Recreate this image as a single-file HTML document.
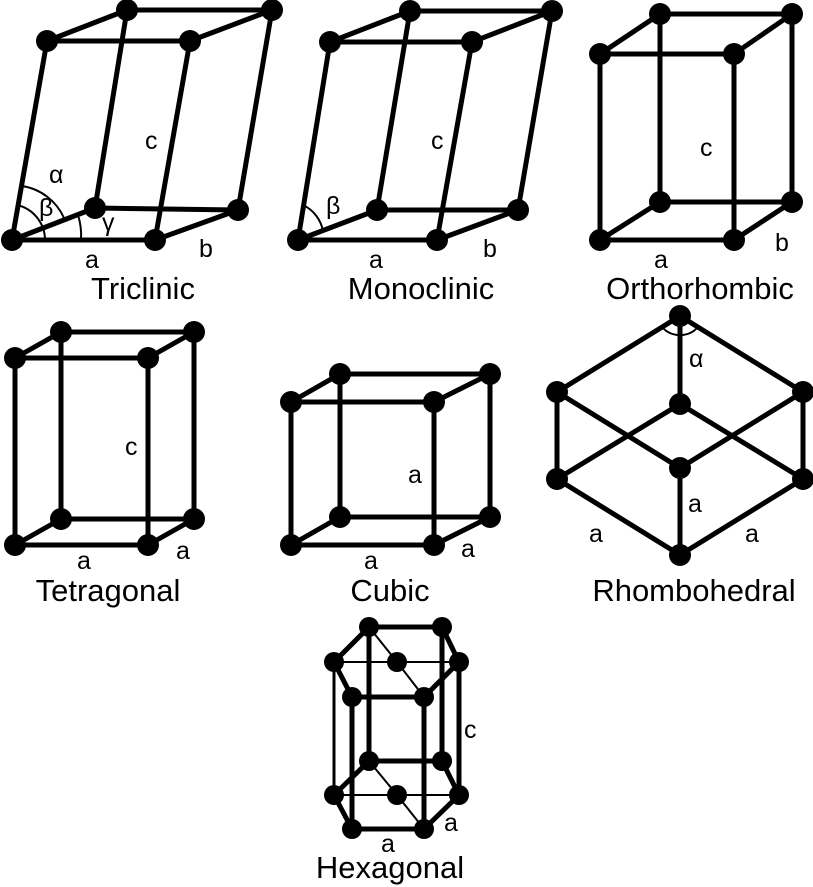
<!DOCTYPE html>
<html><head><meta charset="utf-8"><style>
html,body{margin:0;padding:0;background:#fff}
svg{display:block}
text{font-family:"Liberation Sans",Arial,sans-serif;fill:#000}
.lbl{font-size:31px}
.ax{font-size:25px}
</style></head><body>
<svg id="s" width="813" height="887" viewBox="0 0 813 887">
<g id="lines" stroke="#000" stroke-width="5" stroke-linecap="round" fill="none"></g>
<g id="arcs" stroke="#000" stroke-width="2" fill="none">
<path d="M22,186 A55,55 0 0 1 64,218"/>
<path d="M17,205 A36,36 0 0 1 45,240"/>
<path d="M78,215 A68,68 0 0 1 81,240"/>
<path d="M303,205 A36,36 0 0 1 323,231"/>
<path d="M662,327 A24,24 0 0 0 698,327"/>
</g>
<g id="dots" fill="#000"></g>
<g>
<text class="ax" x="49" y="183">α</text>
<text class="ax" x="39" y="216">β</text>
<text class="ax" x="102" y="231">γ</text>
<text class="ax" x="145" y="149">c</text>
<text class="ax" x="85" y="268">a</text>
<text class="ax" x="199" y="257">b</text>
<text class="lbl" x="143" y="299" text-anchor="middle">Triclinic</text>
<text class="ax" x="326" y="214">β</text>
<text class="ax" x="431" y="149">c</text>
<text class="ax" x="369" y="268">a</text>
<text class="ax" x="483" y="257">b</text>
<text class="lbl" x="421" y="299" text-anchor="middle">Monoclinic</text>
<text class="ax" x="700" y="156">c</text>
<text class="ax" x="654" y="268">a</text>
<text class="ax" x="775" y="251">b</text>
<text class="lbl" x="700" y="299" text-anchor="middle">Orthorhombic</text>
<text class="ax" x="125" y="455">c</text>
<text class="ax" x="77" y="569">a</text>
<text class="ax" x="176" y="559">a</text>
<text class="lbl" x="108" y="601" text-anchor="middle">Tetragonal</text>
<text class="ax" x="408" y="483">a</text>
<text class="ax" x="364" y="569">a</text>
<text class="ax" x="461" y="557">a</text>
<text class="lbl" x="390" y="601" text-anchor="middle">Cubic</text>
<text class="ax" x="689" y="367">α</text>
<text class="ax" x="589" y="542">a</text>
<text class="ax" x="688" y="512">a</text>
<text class="ax" x="745" y="542">a</text>
<text class="lbl" x="694" y="601" text-anchor="middle">Rhombohedral</text>
<text class="ax" x="464" y="738">c</text>
<text class="ax" x="381" y="852">a</text>
<text class="ax" x="444" y="831">a</text>
<text class="lbl" x="390" y="878" text-anchor="middle">Hexagonal</text>
</g>
</svg>
<script>
const NS="http://www.w3.org/2000/svg";
function box(p){
  const e=[[0,1],[0,2],[1,3],[2,3],[4,5],[4,6],[5,7],[6,7],[0,4],[1,5],[2,6],[3,7]];
  return {pts:p,edges:e.map(x=>[x[0],x[1],5])};
}
const shapes=[
 box([[12,240],[155,240],[95,208],[238,210],[47,41],[190,41],[127,10],[272,10]]),
 box([[298,240],[437,240],[377,210],[518,210],[330,42],[472,42],[410,11],[552,11]]),
 box([[600,240],[734,240],[660,202],[792,202],[600,54],[734,54],[660,14],[792,14]]),
 box([[15,545],[148,545],[61,519],[194,519],[15,358],[148,358],[61,332],[194,332]]),
 box([[291,545],[434,545],[340,517],[490,517],[291,402],[434,402],[340,374],[490,374]]),
 {pts:[[680,316],[557,392],[680,404],[803,392],[557,479],[680,468],[803,479],[680,555]],
  edges:[[0,1,5],[0,3,5],[0,2,5],[1,4,5],[3,6,5],[1,5,5],[3,5,5],[2,4,5],[2,6,5],[4,7,5],[6,7,5],[5,7,5]]},
 {pts:[[369,627],[442,627],[334,662],[397,662],[459,662],[352,697],[424,697],
       [369,761],[442,761],[334,795],[397,795],[459,795],[352,829],[424,829]],
  edges:[[0,1,5],[0,2,5],[1,4,5],[2,5,5],[5,6,5],[6,4,5],[2,4,2],[0,3,2],[3,6,2],
         [7,8,5],[7,9,5],[8,11,5],[9,12,5],[12,13,5],[13,11,5],[9,11,2],[7,10,2],[10,13,2],
         [0,7,5],[1,8,5],[2,9,3],[4,11,5],[5,12,5],[6,13,5]]}
];
const lg=document.getElementById('lines'),dg=document.getElementById('dots');
shapes.forEach((s,si)=>{
  s.edges.forEach(([a,b,w])=>{
    const l=document.createElementNS(NS,'line');
    l.setAttribute('x1',s.pts[a][0]);l.setAttribute('y1',s.pts[a][1]);
    l.setAttribute('x2',s.pts[b][0]);l.setAttribute('y2',s.pts[b][1]);
    l.setAttribute('stroke-width',w);
    
    
    lg.appendChild(l);
  });
  s.pts.forEach(p=>{
    const c=document.createElementNS(NS,'circle');
    c.setAttribute('cx',p[0]);c.setAttribute('cy',p[1]);c.setAttribute('r',si===6?10:11);
    
    
    dg.appendChild(c);
  });
});
</script>
</body></html>
